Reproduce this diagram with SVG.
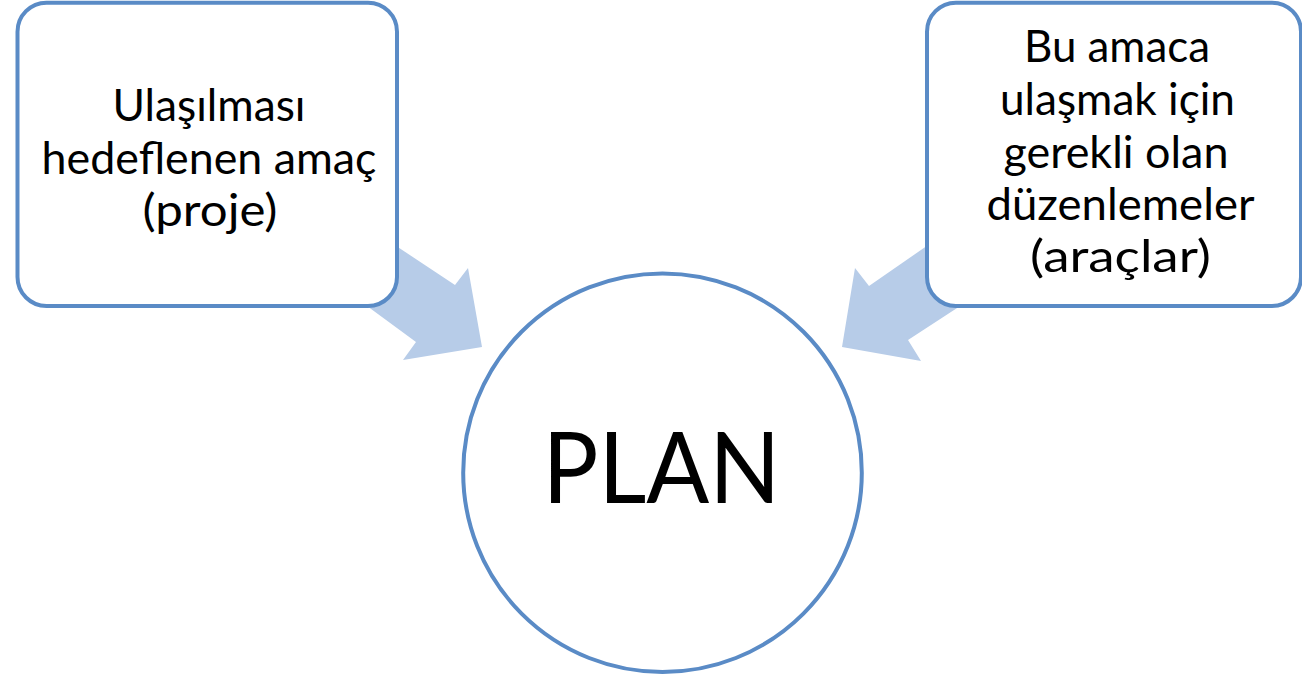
<svg xmlns="http://www.w3.org/2000/svg" width="1302" height="678" viewBox="0 0 1302 678">
  <style>
    .node { fill: #FFFFFF; stroke: #5A8BC6; stroke-width: 4; }
    .arrow { fill: #B7CCE8; stroke: none; }
    .lbl { font-family: Lato, "Liberation Sans", Arial, sans-serif; font-size: 44px; fill: #000000; text-anchor: middle; }
    .big { font-family: Lato, "Liberation Sans", Arial, sans-serif; font-size: 99px; fill: #000000; text-anchor: middle; }
  </style>
  <rect width="1302" height="678" fill="#FFFFFF"/>
  <g id="connectors">
    <polygon class="arrow" points="354,218 455,285 468,268 482,347 403,360 416,342 333,281"/>
    <polygon class="arrow" points="970,216 869,286 855,268 842,347 921,361 908,340 997,282"/>
  </g>
  <g id="node-amac">
    <rect class="node" x="17.5" y="2.7" width="379.5" height="303.3" rx="29" ry="29"/>
    <text class="lbl" x="209" y="121" textLength="193" lengthAdjust="spacingAndGlyphs">Ulaşılması</text>
    <text class="lbl" x="209" y="174" textLength="335" lengthAdjust="spacingAndGlyphs">hedeflenen amaç</text>
    <text class="lbl" x="210" y="226" textLength="135" lengthAdjust="spacingAndGlyphs">(proje)</text>
  </g>
  <g id="node-araclar">
    <rect class="node" x="927" y="2.7" width="374" height="303.3" rx="29" ry="29"/>
    <text class="lbl" x="1117" y="62" textLength="186" lengthAdjust="spacingAndGlyphs">Bu amaca</text>
    <text class="lbl" x="1117.5" y="115" textLength="235" lengthAdjust="spacingAndGlyphs">ulaşmak için</text>
    <text class="lbl" x="1116" y="168" textLength="225" lengthAdjust="spacingAndGlyphs">gerekli olan</text>
    <text class="lbl" x="1120.5" y="220" textLength="268" lengthAdjust="spacingAndGlyphs">düzenlemeler</text>
    <text class="lbl" x="1120.5" y="272" textLength="181" lengthAdjust="spacingAndGlyphs">(araçlar)</text>
  </g>
  <g id="node-plan">
    <circle class="node" cx="662.5" cy="472.7" r="199.3"/>
    <text class="big" x="661.5" y="503" textLength="238" lengthAdjust="spacingAndGlyphs">PLAN</text>
  </g>
</svg>
